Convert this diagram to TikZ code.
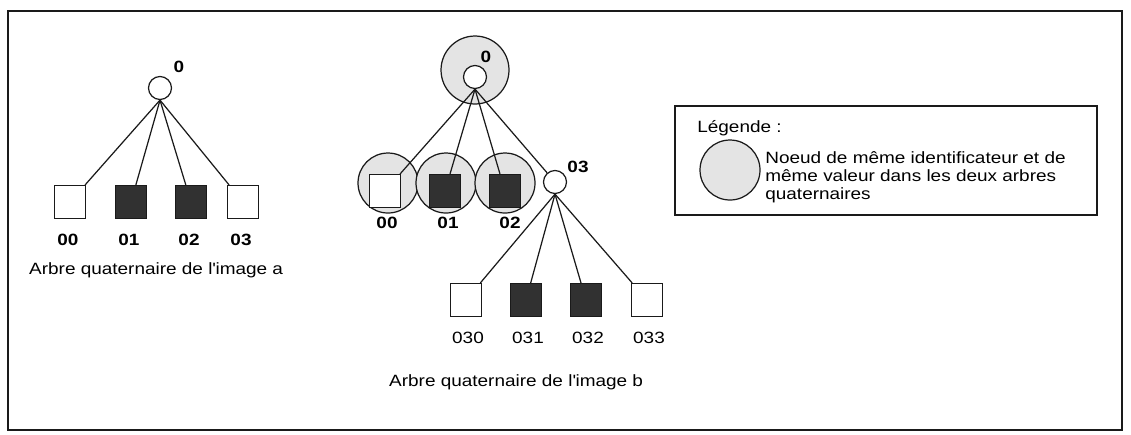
\documentclass[tikz,border=0pt]{standalone}
\usepackage{fontspec}
\setmainfont{Liberation Sans}[FakeStretch=1.16]
\usetikzlibrary{positioning}
\definecolor{ink}{HTML}{1A1A1A}
\definecolor{shade}{HTML}{E4E4E4}
\tikzset{
  every node/.style={font=\fontsize{9.3}{10.4}\selectfont},
  nn/.style={circle,draw=ink,line width=0.7pt,minimum size=4.6mm,inner sep=0pt,fill=white},
  leaf/.style={draw=ink,line width=0.7pt,minimum width=6.2mm,minimum height=6.6mm,inner sep=0pt,fill=white},
  blk/.style={leaf,fill=ink!90},
  same/.style={circle,draw=ink,line width=0.7pt,fill=shade,inner sep=0pt,minimum size=12mm},
  edge/.style={draw=ink,line width=0.7pt},
  num/.style={font=\fontsize{9.3}{10.4}\selectfont\bfseries},
}
\begin{document}
\begin{tikzpicture}[x=0.02cm,y=-0.02cm]
  \useasboundingbox (0,0) rectangle (1131,434);
  \draw[ink,line width=0.9pt] (8,11) rectangle (1122,430);
  % arbre de l'image a
  \node[nn] (ra) at (160,88) {};
  \node[num] (lra) at (179,67) {0};
  \foreach \k/\x/\s in {0/70/leaf,1/131/blk,2/191/blk,3/243/leaf}{
    \node[\s] (a0\k) at (\x,202) {};
    \node[num] (la0\k) at (\x-2,240) {0\k};
    \draw[edge] (ra.south) -- (a0\k);
  }
  \node[anchor=west] (capa) at (23,270) {Arbre quaternaire de l\textquotesingle image a};
  % arbre de l'image b
  \node[same,minimum size=13.6mm] (sb) at (475,70) {};
  \node[same] (sb00) at (388,183) {};
  \node[same] (sb01) at (446,183) {};
  \node[same] (sb02) at (505,183) {};
  \node[nn] (rb) at (475,77) {};
  \node[num] (lrb) at (486,57) {0};
  \node[leaf] (b00) at (385,191) {};
  \node[blk] (b01) at (445,191) {};
  \node[blk] (b02) at (505,191) {};
  \node[nn] (b03) at (555,182) {};
  \node[num] (lb00) at (387,223) {00};
  \node[num] (lb01) at (448,223) {01};
  \node[num] (lb02) at (510,223) {02};
  \node[num] (lb03) at (578,167) {03};
  \foreach \k in {00,01,02,03}
    \draw[edge] (rb.south) -- (b\k);
  \foreach \k/\x/\s in {0/466/leaf,1/526/blk,2/586/blk,3/647/leaf}{
    \node[\s] (b03\k) at (\x,300) {};
    \node (lb03\k) at (\x+2,338) {03\k};
    \draw[edge] (b03.south) -- (b03\k);
  }
  \node[anchor=west] (capb) at (383,382) {Arbre quaternaire de l\textquotesingle image b};
  % legende
  \node[draw=ink,line width=0.7pt,minimum width=8.44cm,minimum height=2.18cm,inner sep=0pt] (leg) at (886,160.5) {};
  \node[anchor=base west,inner sep=0pt] (legt) at (697,132) {Légende :};
  \node[same] (legc) at (730,170) {};
  \node[anchor=north west,align=left,inner sep=0pt] (legx) at (765,151)
    {Noeud de même identificateur et de\\même valeur dans les deux arbres\\quaternaires};
\end{tikzpicture}
\end{document}
